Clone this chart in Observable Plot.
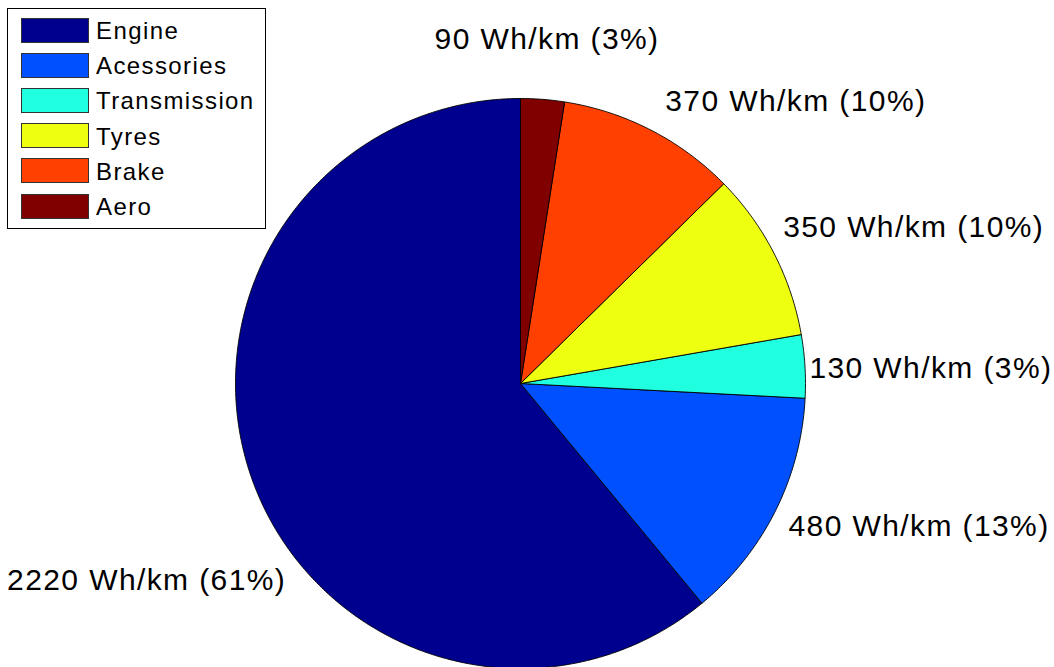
<!DOCTYPE html>
<html>
<head>
<meta charset="utf-8">
<script src="https://cdn.jsdelivr.net/npm/d3@7"></script>
<script src="https://cdn.jsdelivr.net/npm/@observablehq/plot@0.6"></script>
<style>
  html, body { margin: 0; padding: 0; background: #fff; }
  #chart { position: relative; width: 1054px; height: 667px; overflow: hidden;
           font-family: "Liberation Sans", Arial, Helvetica, sans-serif; }
  #chart svg { position: absolute; left: 0; top: 0; }
  #legend { position: absolute; left: 7px; top: 8px; width: 259px; height: 221px;
            box-sizing: border-box; border: 1px solid #000; background: #fff; }
  .item { position: absolute; left: 13px; height: 26px; display: flex; align-items: center; }
  .sw { width: 68px; height: 25px; border: 1px solid #333; box-sizing: border-box; }
  .lb { margin-left: 7px; font-size: 24px; line-height: 26px; letter-spacing: 1.4px; color: #000; padding-top: 2px; }
</style>
</head>
<body>
<div id="chart"></div>
<script>
// Energy use per component (Wh/km)
const names = ["Engine", "Acessories", "Transmission", "Tyres", "Brake", "Aero"];
const energy = [2220, 480, 130, 350, 370, 90];
const labels = ["2220 Wh/km (61%)", "480 Wh/km (13%)", "130 Wh/km (3%)",
                "350 Wh/km (10%)", "370 Wh/km (10%)", "90 Wh/km (3%)"];
const colors = ["#00008f", "#0050ff", "#20ffdf", "#efff10", "#ff4000", "#800000"];

// Layout
const W = 1054, H = 667;
const R = 285, cx = 520, cy = 383;
// pixel nudges for each slice label, relative to its spot at 1.2 radii
const labelNudge = [[-52, 81], [93, -11], [69, 6], [89, 0], [119, 22], [0, -3]];

// Slices run counter-clockwise from 12 o'clock, in data order
const arcs = d3.pie().sort(null).startAngle(0).endAngle(2 * Math.PI)(energy);
const toXY = (a, r) => ({x: -r * Math.sin(a), y: r * Math.cos(a)});

const outline = [];
arcs.forEach((s, i) => {
  const n = Math.max(2, Math.ceil((s.endAngle - s.startAngle) / (Math.PI / 360)));
  outline.push({name: names[i], x: 0, y: 0});
  for (let k = 0; k <= n; ++k) {
    const a = s.startAngle + (s.endAngle - s.startAngle) * k / n;
    outline.push({name: names[i], ...toXY(a, 1)});
  }
  outline.push({name: names[i], x: 0, y: 0});
});

const labelData = arcs.map((s, i) => ({
  name: names[i], text: labels[i], ...toXY((s.startAngle + s.endAngle) / 2, 1.2)
}));

const plot = Plot.plot({
  width: W,
  height: H,
  margin: 0,
  x: {domain: [-1, 1], range: [cx - R, cx + R], axis: null},
  y: {domain: [-1, 1], range: [cy + R, cy - R], axis: null},
  color: {domain: names, range: colors},
  style: {background: "#fff", fontFamily: "'Liberation Sans', Arial, Helvetica, sans-serif", letterSpacing: "1.4px"},
  marks: [
    Plot.line(outline, {x: "x", y: "y", z: "name", fill: "name", stroke: "#000", strokeWidth: 0.9, curve: "linear"}),
    ...labelData.map((d, i) => Plot.text([d], {
      x: "x", y: "y", text: "text", fontSize: 30, fill: "#000",
      dx: labelNudge[i][0], dy: labelNudge[i][1]
    }))
  ]
});

const chart = document.getElementById("chart");
chart.appendChild(plot);

// Legend box
const legend = document.createElement("div");
legend.id = "legend";
names.forEach((n, i) => {
  const item = document.createElement("div");
  item.className = "item";
  item.style.top = (8 + i * 35.2) + "px";
  const sw = document.createElement("div");
  sw.className = "sw";
  sw.style.background = colors[i];
  const lb = document.createElement("span");
  lb.className = "lb";
  lb.textContent = n;
  item.appendChild(sw);
  item.appendChild(lb);
  legend.appendChild(item);
});
chart.appendChild(legend);
</script>
</body>
</html>
